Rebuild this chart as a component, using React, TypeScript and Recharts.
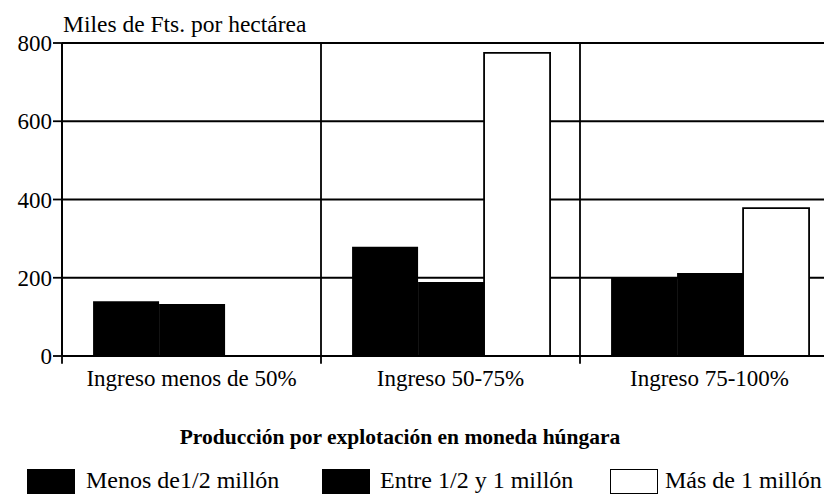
import { BarChart, Bar, XAxis, YAxis, CartesianGrid, ReferenceLine, Legend } from 'recharts';

const categories = ['Ingreso menos de 50%', 'Ingreso 50-75%', 'Ingreso 75-100%'];
const menosMedioMillon = [140, 279, 202];
const entreMedioYUnMillon = [133, 189, 212];
const masDeUnMillon = [0, 775, 378];
const yTicks = [0, 200, 400, 600, 800];
const seriesNames = ['Menos de1/2 millón', 'Entre 1/2 y 1 millón', 'Más de 1 millón'];

const font = '"Liberation Serif", "Times New Roman", serif';
const LINE = 1.8;

const data = categories.map((name, i) => ({
  name,
  menos: menosMedioMillon[i],
  entre: entreMedioYUnMillon[i],
  mas: masDeUnMillon[i],
}));

// category boundaries: start of every band, plus the end of the last one
const boundaries = [
  ...categories.map((c) => ({ cat: c, pos: 'start' as const })),
  { cat: categories[categories.length - 1], pos: 'end' as const },
];

function renderLegend() {
  const items = [
    { name: seriesNames[0], fill: '#000', left: 19, textLeft: 78 },
    { name: seriesNames[1], fill: '#000', left: 314, textLeft: 372 },
    { name: seriesNames[2], fill: '#fff', left: 602, textLeft: 657 },
  ];
  return (
    <div style={{ position: 'relative', height: 99, width: 824, fontFamily: font, color: '#000' }}>
      <div
        style={{
          position: 'absolute',
          top: 29,
          left: 0,
          width: 784,
          textAlign: 'center',
          fontWeight: 'bold',
          fontSize: 21.5,
        }}
      >
        Producción por explotación en moneda húngara
      </div>
      {items.map((it) => (
        <div key={it.name}>
          <div
            style={{
              position: 'absolute',
              top: 73,
              left: it.left,
              width: 48,
              height: 25,
              boxSizing: 'border-box',
              background: it.fill,
              border: '1.8px solid #000',
            }}
          />
          <div style={{ position: 'absolute', top: 71, left: it.textLeft, fontSize: 24, whiteSpace: 'nowrap' }}>
            {it.name}
          </div>
        </div>
      ))}
    </div>
  );
}

export default function App() {
  return (
    <div style={{ width: 824, height: 487, overflow: 'hidden' }}>
      <BarChart
        width={835}
        height={487}
        data={data}
        margin={{ top: 35, right: 4, bottom: 0, left: 0 }}
        barCategoryGap="12%"
        barGap={0}
      >
        <CartesianGrid vertical={false} stroke="#000" strokeWidth={LINE} />
        <XAxis
          dataKey="name"
          axisLine={false}
          tickLine={false}
          height={40}
          tickMargin={8}
          tick={{ fill: '#000', fontSize: 23, fontFamily: font }}
        />
        <YAxis
          width={54}
          domain={[0, 800]}
          ticks={yTicks}
          tickSize={9}
          tickMargin={1}
          axisLine={{ stroke: '#000', strokeWidth: LINE }}
          tickLine={{ stroke: '#000', strokeWidth: LINE }}
          tick={{ fill: '#000', fontSize: 23, fontFamily: font }}
          label={{
            content: (props: any) => (
              <text
                x={props.viewBox.x + props.viewBox.width + 1}
                y={props.viewBox.y - 11}
                fontSize={23.5}
                fontFamily={font}
                fill="#000"
              >
                Miles de Fts. por hectárea
              </text>
            ),
          }}
        />
        {boundaries.map((b, i) => (
          <ReferenceLine
            key={i}
            position={b.pos}
            segment={[
              { x: b.cat, y: -20 },
              { x: b.cat, y: 800 },
            ]}
            stroke="#000"
            strokeWidth={LINE}
            ifOverflow="visible"
          />
        ))}
        <Bar dataKey="menos" name={seriesNames[0]} fill="#000" isAnimationActive={false} />
        <Bar dataKey="entre" name={seriesNames[1]} fill="#000" isAnimationActive={false} />
        <Bar dataKey="mas" name={seriesNames[2]} fill="#fff" stroke="#000" strokeWidth={LINE} isAnimationActive={false} />
        <Legend verticalAlign="bottom" content={renderLegend} wrapperStyle={{ left: 0, bottom: 0, width: 824 }} />
      </BarChart>
    </div>
  );
}
